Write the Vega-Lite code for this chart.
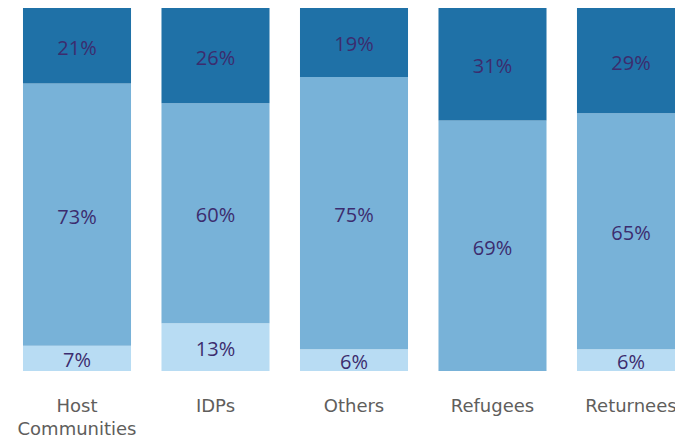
{
  "$schema": "https://vega.github.io/schema/vega-lite/v6.json",
  "width": 708,
  "height": 363,
  "autosize": "none",
  "padding": {"left": 0, "top": 8, "right": 0, "bottom": 70},
  "background": "white",
  "config": {"view": {"stroke": null}},
  "data": {
    "values": [
      {"group": "Host Communities", "seg": "low", "rank": 1, "value": 7},
      {"group": "Host Communities", "seg": "mid", "rank": 2, "value": 73},
      {"group": "Host Communities", "seg": "high", "rank": 3, "value": 21},
      {"group": "IDPs", "seg": "low", "rank": 1, "value": 13},
      {"group": "IDPs", "seg": "mid", "rank": 2, "value": 60},
      {"group": "IDPs", "seg": "high", "rank": 3, "value": 26},
      {"group": "Others", "seg": "low", "rank": 1, "value": 6},
      {"group": "Others", "seg": "mid", "rank": 2, "value": 75},
      {"group": "Others", "seg": "high", "rank": 3, "value": 19},
      {"group": "Refugees", "seg": "low", "rank": 1, "value": 0},
      {"group": "Refugees", "seg": "mid", "rank": 2, "value": 69},
      {"group": "Refugees", "seg": "high", "rank": 3, "value": 31},
      {"group": "Returnees", "seg": "low", "rank": 1, "value": 6},
      {"group": "Returnees", "seg": "mid", "rank": 2, "value": 65},
      {"group": "Returnees", "seg": "high", "rank": 3, "value": 29}
    ]
  },
  "transform": [
    {"stack": "value", "groupby": ["group"], "sort": [{"field": "rank"}], "as": ["v0", "v1"], "offset": "normalize"},
    {"calculate": "(datum.v0 + datum.v1) / 2", "as": "mid"},
    {"calculate": "datum.value + '%'", "as": "label"}
  ],
  "encoding": {
    "x": {
      "field": "group",
      "type": "nominal",
      "sort": null,
      "title": null,
      "scale": {"paddingInner": 0.22, "paddingOuter": 0.166},
      "axis": {
        "labelAngle": 0,
        "domain": false,
        "ticks": false,
        "labelFont": "DejaVu Sans",
        "labelFontSize": 18,
        "labelColor": "#605E5C",
        "labelPadding": 26,
        "labelLineHeight": 23,
        "labelExpr": "datum.label == 'Host Communities' ? ['Host', 'Communities'] : datum.label"
      }
    }
  },
  "layer": [
    {
      "mark": {"type": "bar"},
      "encoding": {
        "y": {"field": "v0", "type": "quantitative", "scale": {"domain": [0, 1]}, "axis": null},
        "y2": {"field": "v1"},
        "color": {
          "field": "seg",
          "type": "nominal",
          "scale": {"domain": ["low", "mid", "high"], "range": ["#B8DCF3", "#78B2D8", "#1F71A7"]},
          "legend": null
        }
      }
    },
    {
      "transform": [{"filter": "datum.value > 0"}],
      "mark": {"type": "text", "font": "Open Sans", "fontSize": 20, "color": "#3C2C6E", "baseline": "middle", "dy": 3},
      "encoding": {
        "y": {"field": "mid", "type": "quantitative"},
        "text": {"field": "label", "type": "nominal"}
      }
    }
  ]
}
